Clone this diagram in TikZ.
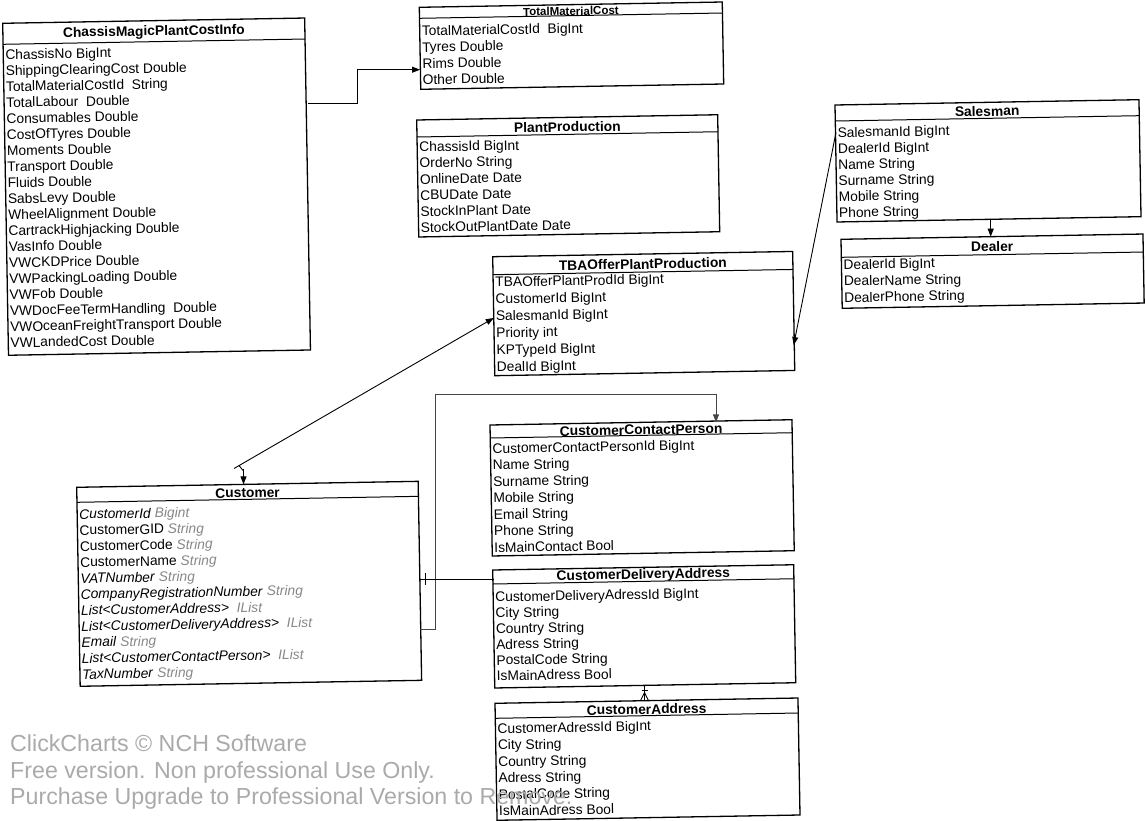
\documentclass[tikz,border=0pt]{standalone}
\usepackage{fontspec}
\setmainfont{Liberation Sans}
\usetikzlibrary{arrows.meta}
\definecolor{typegray}{RGB}{135,135,135}
\definecolor{wmgray}{RGB}{170,170,170}
\definecolor{linegray}{RGB}{70,70,70}
\newcommand\ty[1]{\textcolor{typegray}{\itshape #1}}
\tikzset{
  tbox/.style={draw, line width=1.3pt, inner sep=0pt, outer sep=0pt, anchor=north west},
  hline/.style={line width=1pt},
  ttl/.style={inner sep=0pt, font=\bfseries\fontsize{13.8}{16}\selectfont},
  trow/.style={anchor=north west, align=left, inner sep=0pt},
  conn/.style={line width=0.9pt, black},
  arr/.style={-{Triangle[length=8pt,width=6pt]}},
  wm/.style={anchor=base west, inner sep=0pt, text=wmgray, font=\fontsize{23.2}{26}\selectfont},
}
% name, (x,y), w, h, header, first-row centre, row pitch, title, rows
\newcommand\tbl[9]{%
  \begin{scope}[shift={#2}, rotate=1, transform shape]
    \node[tbox, minimum width=#3pt, minimum height=#4pt] (#1) at (0,0) {};
    \draw[hline] (0,#5) -- (#3,#5);
    \node[ttl] at ({#3/2},{#5/2+1}) {#8};
    \node[trow, font=\fontsize{13.8}{#7}\selectfont] at (2,{#6-5}) {#9};
  \end{scope}}
\begin{document}
\begin{tikzpicture}[x=1pt,y=-1pt]
\fill[white] (0,0) rectangle (1145,821);
\useasboundingbox (0,0) rectangle (1145,821);

\tbl{chassis}{(2.7,23.3)}{302}{332}{21}{31}{16.0}{ChassisMagicPlantCostInfo}{%
ChassisNo BigInt\\
ShippingClearingCost Double\\
TotalMaterialCostId\ \ String\\
TotalLabour\ \ Double\\
Consumables Double\\
CostOfTyres Double\\
Moments Double\\
Transport Double\\
Fluids Double\\
SabsLevy Double\\
WheelAlignment Double\\
CartrackHighjacking Double\\
VasInfo Double\\
VWCKDPrice Double\\
VWPackingLoading Double\\
VWFob Double\\
VWDocFeeTermHandling\ \ Double\\
VWOceanFreightTransport Double\\
VWLandedCost Double}

\tbl{tmc}{(419.3,7.3)}{303}{82}{11}{23.4}{16.2}{\fontsize{11.5}{13}\selectfont TotalMaterialCost}{%
TotalMaterialCostId\ \ BigInt\\
Tyres Double\\
Rims Double\\
Other Double}

\tbl{pp}{(416.7,120)}{301}{117}{17}{26.7}{16.1}{PlantProduction}{%
ChassisId BigInt\\
OrderNo String\\
OnlineDate Date\\
CBUDate Date\\
StockInPlant Date\\
StockOutPlantDate Date}

\tbl{sales}{(835,105)}{304}{117}{16}{27.3}{16.0}{Salesman}{%
SalesmanId BigInt\\
DealerId BigInt\\
Name String\\
Surname String\\
Mobile String\\
Phone String}

\tbl{dealer}{(841,239.3)}{302}{69}{18}{25}{16.5}{Dealer}{%
DealerId BigInt\\
DealerName String\\
DealerPhone String}

\tbl{tba}{(492.7,256.7)}{300}{119}{18}{25}{17}{TBAOfferPlantProduction}{%
TBAOfferPlantProdId BigInt\\
CustomerId BigInt\\
SalesmanId BigInt\\
Priority int\\
KPTypeId BigInt\\
DealId BigInt}

\tbl{ccp}{(490,425)}{302}{131}{13}{23.3}{16.5}{CustomerContactPerson}{%
CustomerContactPersonId BigInt\\
Name String\\
Surname String\\
Mobile String\\
Email String\\
Phone String\\
IsMainContact Bool}

\tbl{cust}{(76.7,487.3)}{341.5}{199}{15}{26.7}{16.0}{Customer}{%
\textit{CustomerId} \ty{Bigint}\\
CustomerGID \ty{String}\\
CustomerCode \ty{String}\\
CustomerName \ty{String}\\
\textit{VATNumber} \ty{String}\\
\textit{CompanyRegistrationNumber} \ty{String}\\
\textit{List<CustomerAddress>}\ \ \ty{IList}\\
\textit{List<CustomerDeliveryAddress>}\ \ \ty{IList}\\
\textit{Email} \ty{String}\\
\textit{List<CustomerContactPerson>}\ \ \ty{IList}\\
\textit{TaxNumber} \ty{String}}

\tbl{cda}{(492.7,570)}{301}{118}{14}{26.7}{15.8}{CustomerDeliveryAddress}{%
CustomerDeliveryAdressId BigInt\\
City String\\
Country String\\
Adress String\\
PostalCode String\\
IsMainAdress Bool}

\tbl{cad}{(495,703.3)}{303}{117}{15}{25}{16.5}{CustomerAddress}{%
CustomerAdressId BigInt\\
City String\\
Country String\\
Adress String\\
PostalCode String\\
IsMainAdress Bool}

% connectors
\draw[conn, arr] (chassis.east |- 0,103.3) -| (357.7,69.7) -- (tmc.west |- 0,69.7);
\draw[conn, arr] (sales.south -| 990.7,0) -- (dealer.north -| 990.7,0);
\draw[conn, arr] (sales.west |- 0,132.3) -- (tba.east |- 0,345);
\coordinate (tbatail) at (234,468.5);
\draw[conn, arr] (tbatail) -- (tba.west |- 0,318);
\draw[conn] (239,465.5) -- (243.5,471);
\draw[conn, arr] (243.5,469) -- (cust.north -| 243.5,0);
\draw[conn, linegray, arr] (cust.east |- 0,629.3) -| (435.5,394.5) -| (ccp.north -| 716,0);
\draw[conn] (cust.east |- 0,579.5) -- (cda.west |- 0,579.5);
\draw[conn] (425,573) -- (425,585);
\coordinate (cfa) at (cda.south -| 644.5,0);
\coordinate (cfb) at (cad.north -| 644.5,0);
\draw[conn] (cfa) -- (cfb);
\draw[conn] (641.5,690.3) -- (647.5,690.3);
\draw[conn] (cfb -| 640.5,0) -- (644.5,692.5) -- (cfb -| 648.5,0);

% watermark
\node[wm] (wm1) at (10,751.7) {ClickCharts © NCH Software};
\node[wm] (wm2) at (10,778.0) {Free version. Non professional Use Only.};
\node[wm] (wm3) at (10,804.0) {Purchase Upgrade to Professional Version to Remove.};
\end{tikzpicture}
\end{document}
